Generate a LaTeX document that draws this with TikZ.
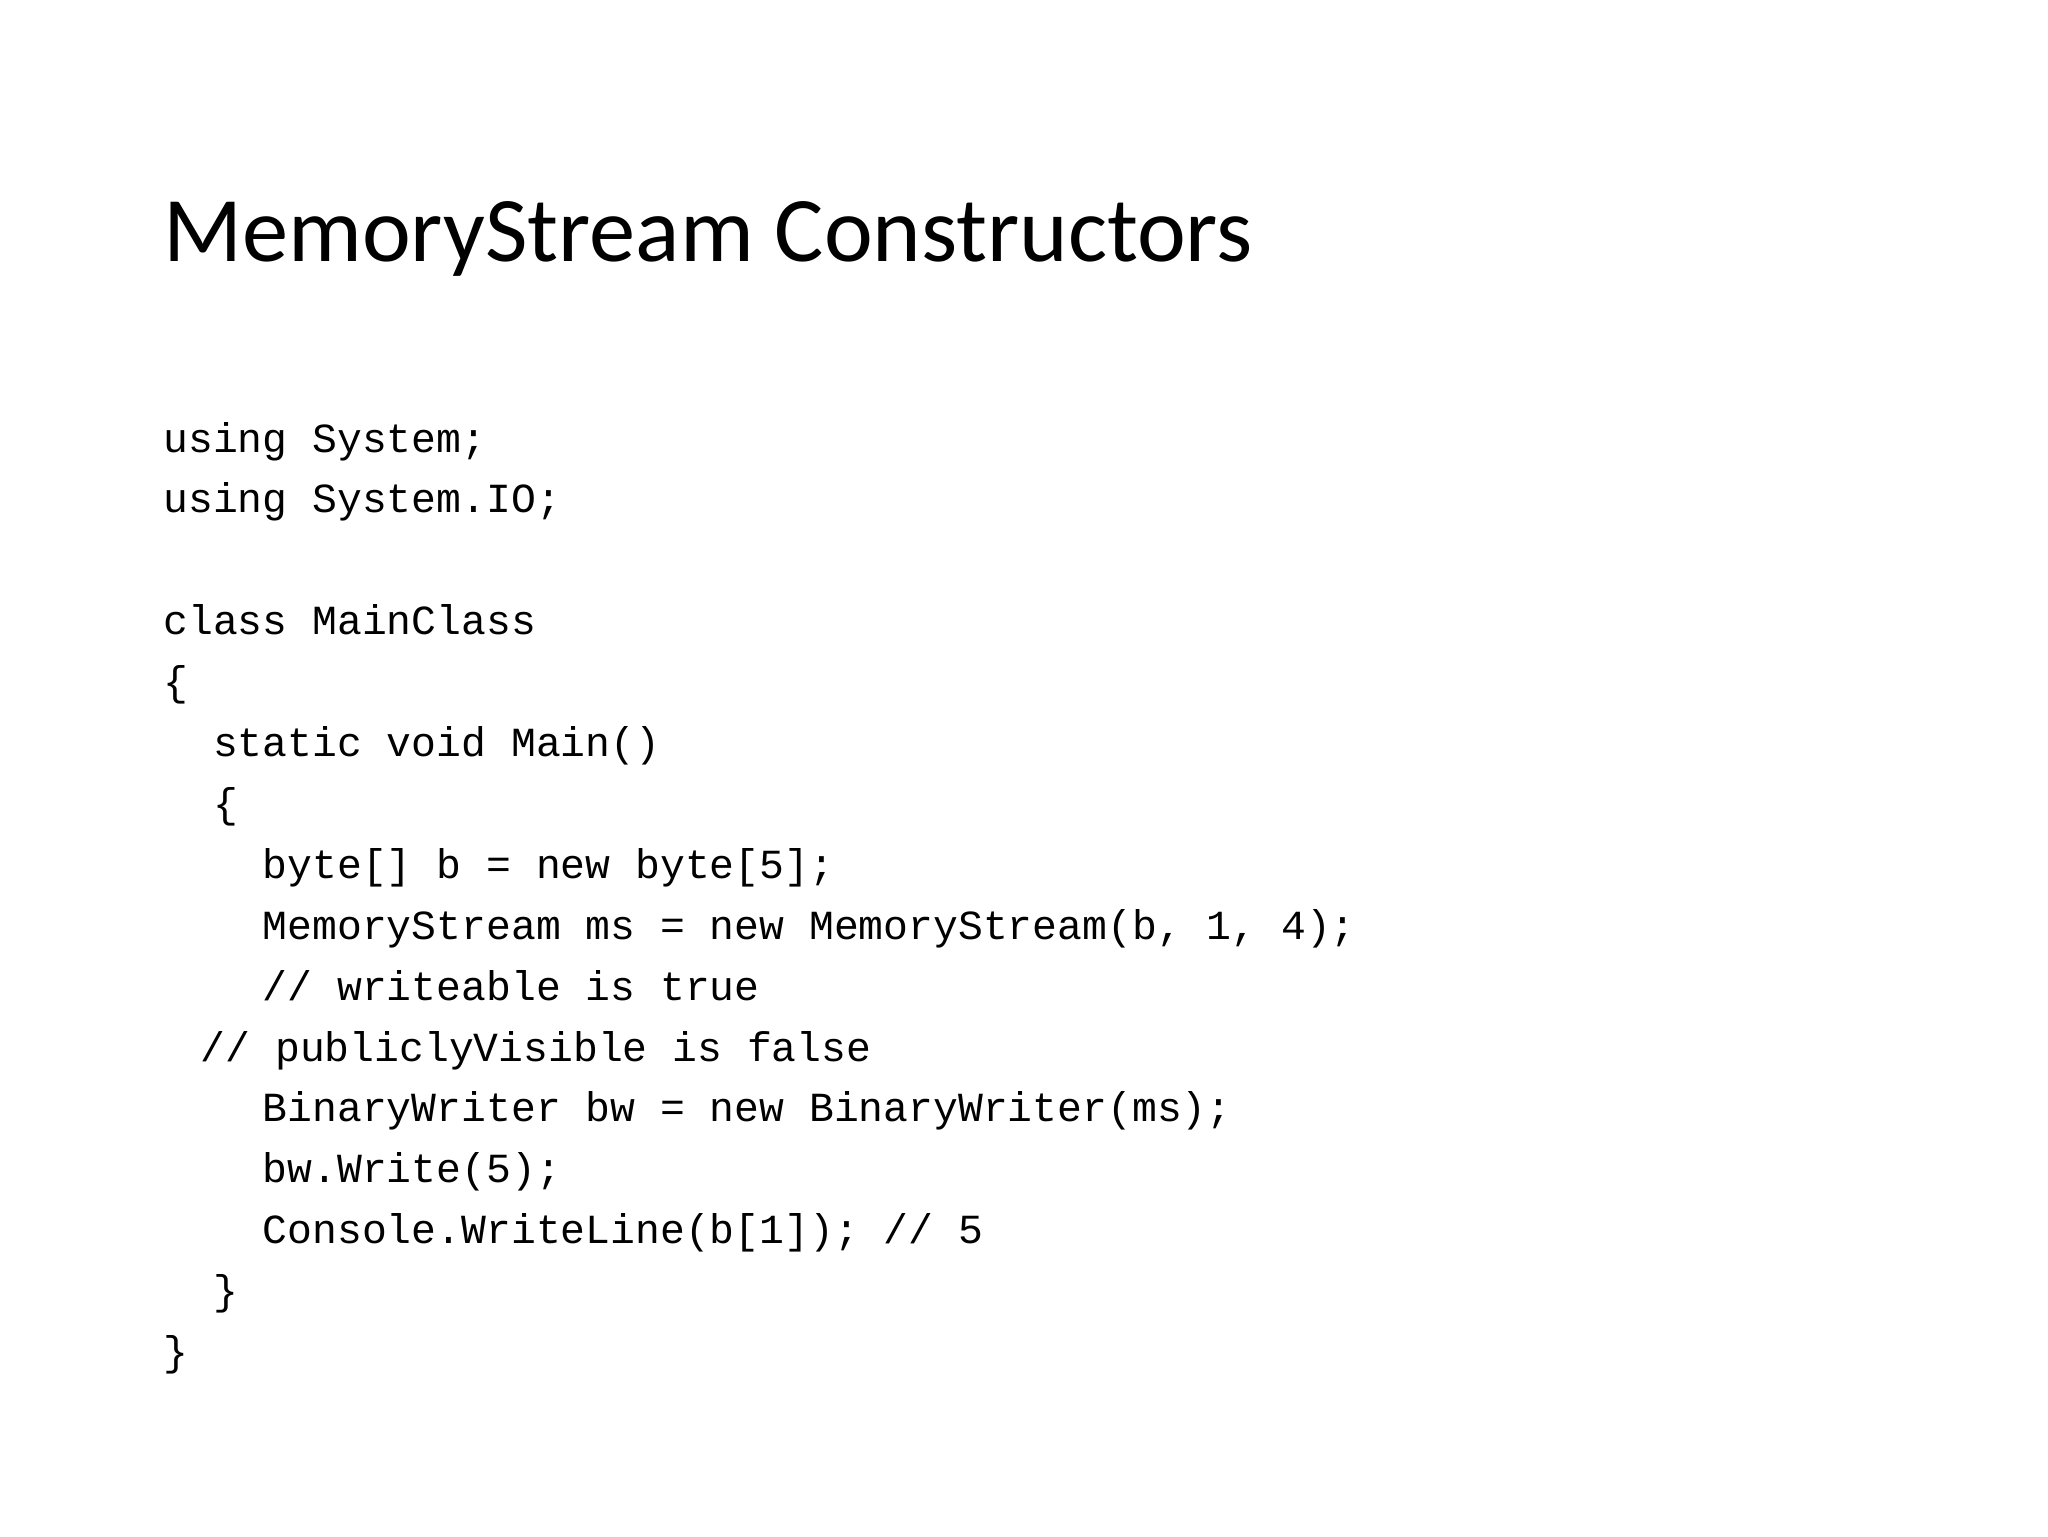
\documentclass[tikz,border=0pt]{standalone}
\usepackage{fontspec}
\setmainfont{Carlito}
\newfontfamily\codefont{Liberation Mono}
\tikzset{
  title/.style={anchor=base west, inner sep=0pt, font=\fontsize{46.2}{50}\selectfont},
  code/.style={anchor=base west, inner sep=0pt, font=\codefont\fontsize{20.7}{25}\selectfont}
}
\begin{document}
\begin{tikzpicture}[x=0.5pt, y=-0.5pt]
  % slide area, in pixels of the 2048x1536 slide
  \useasboundingbox (0,0) rectangle (2048,1536);
  \def\cw{24.84}  % width of one code character
  \def\lh{60.9}   % distance between code lines
  \def\top{452}   % baseline of the first code line

  % Title
  \node[title] (heading) at (163,261) {MemoryStream Constructors};

  % Code
  \node[code] (using1) at (163, \top) {using System;};
  \node[code] (using2) at (163, \top+\lh) {using System.IO;};
  \node[code] (cls) at (163, \top+3*\lh) {class MainClass};
  \node[code] (clsopen) at (163, \top+4*\lh) {\{};
  \node[code] (main) at (163+2*\cw, \top+5*\lh) {static void Main()};
  \node[code] (mainopen) at (163+2*\cw, \top+6*\lh) {\{};
  \node[code] (bytes) at (163+4*\cw, \top+7*\lh) {byte[] b = new byte[5];};
  \node[code] (ms) at (163+4*\cw, \top+8*\lh) {MemoryStream ms = new MemoryStream(b, 1, 4);};
  \node[code] (writeable) at (163+4*\cw, \top+9*\lh) {// writeable is true};
  \node[code] (visible) at (163+1.5*\cw, \top+10*\lh) {// publiclyVisible is false};
  \node[code] (bw) at (163+4*\cw, \top+11*\lh) {BinaryWriter bw = new BinaryWriter(ms);};
  \node[code] (write) at (163+4*\cw, \top+12*\lh) {bw.Write(5);};
  \node[code] (console) at (163+4*\cw, \top+13*\lh) {Console.WriteLine(b[1]); // 5};
  \node[code] (mainclose) at (163+2*\cw, \top+14*\lh) {\}};
  \node[code] (clsclose) at (163, \top+15*\lh) {\}};
\end{tikzpicture}
\end{document}
